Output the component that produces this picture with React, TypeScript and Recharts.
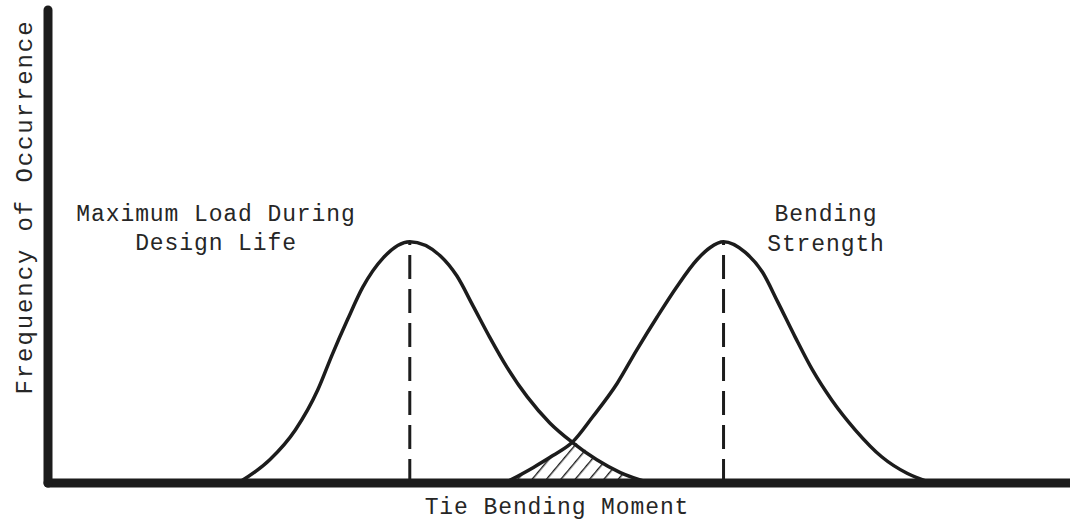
import { ComposedChart, Line, Area, XAxis, YAxis, ReferenceLine } from 'recharts';

// Tie bending moment (arbitrary units, 0-100) vs relative frequency (0-100)
const loadCurve = [
  { x: 18.6, y: 0 },
  { x: 21.7, y: 4.9 },
  { x: 24.2, y: 11.2 },
  { x: 26.4, y: 19.7 },
  { x: 27.8, y: 27.1 },
  { x: 29.3, y: 34.5 },
  { x: 30.8, y: 41.4 },
  { x: 32.8, y: 47.6 },
  { x: 35.4, y: 51.0 },
  { x: 38.4, y: 48.0 },
  { x: 40.0, y: 43.8 },
  { x: 41.6, y: 37.4 },
  { x: 43.2, y: 30.9 },
  { x: 44.9, y: 24.5 },
  { x: 46.9, y: 18.2 },
  { x: 49.1, y: 12.7 },
  { x: 51.3, y: 8.6 },
  { x: 53.7, y: 4.9 },
  { x: 56.0, y: 2.2 },
  { x: 58.9, y: 0 },
];

const strengthCurve = [
  { x: 44.7, y: 0 },
  { x: 47.5, y: 3.3 },
  { x: 49.4, y: 5.8 },
  { x: 51.3, y: 8.6 },
  { x: 53.3, y: 14.0 },
  { x: 55.7, y: 21.1 },
  { x: 57.6, y: 28.1 },
  { x: 59.6, y: 35.1 },
  { x: 61.5, y: 41.4 },
  { x: 63.5, y: 47.2 },
  { x: 64.8, y: 49.8 },
  { x: 66.1, y: 51.0 },
  { x: 68.2, y: 48.8 },
  { x: 69.9, y: 44.6 },
  { x: 71.4, y: 38.3 },
  { x: 73.1, y: 30.9 },
  { x: 74.8, y: 23.9 },
  { x: 76.7, y: 17.5 },
  { x: 79.0, y: 11.2 },
  { x: 81.6, y: 5.5 },
  { x: 84.1, y: 2.0 },
  { x: 86.5, y: 0 },
];

const loadLabel = ['Maximum Load During', 'Design Life'];
const strengthLabel = ['Bending', 'Strength'];
const xTitle = 'Tie Bending Moment';
const yTitle = 'Frequency of Occurrence';

// where the two curves cross; the hatched area sits under the lower of the two
const crossX = 51.3;
const overlap = [
  ...strengthCurve.filter((p) => p.x <= crossX),
  ...loadCurve.filter((p) => p.x > crossX),
];

const peakOf = (pts: { x: number; y: number }[]) =>
  pts.reduce((a, b) => (b.y > a.y ? b : a));

const loadPeak = peakOf(loadCurve);
const strengthPeak = peakOf(strengthCurve);

const INK = '#1c1c1c';
const FONT = '"Courier New", "Liberation Mono", monospace';

const textStyle = {
  fontFamily: FONT,
  fontSize: 23,
  letterSpacing: 0.9,
  fill: '#262626',
};

export default function App() {
  return (
    <div style={{ width: 1070, height: 532, background: '#fff' }}>
      <style>{'body{margin:0}'}</style>
      <ComposedChart
        width={1070}
        height={532}
        margin={{ top: 10, right: 0, left: 0, bottom: 0 }}
      >
        <defs>
          <pattern
            id="hatch"
            patternUnits="userSpaceOnUse"
            width="11"
            height="11"
            patternTransform="rotate(40)"
          >
            <line x1="0" y1="0" x2="0" y2="11" stroke={INK} strokeWidth="2.8" />
          </pattern>
        </defs>
        <XAxis
          type="number"
          dataKey="x"
          domain={[0, 100]}
          allowDataOverflow
          height={49}
          tick={false}
          tickLine={false}
          axisLine={{ stroke: INK, strokeWidth: 9, strokeLinecap: 'round' }}
          label={({ viewBox }: any) => (
            <text
              x={viewBox.x + viewBox.width / 2 - 2}
              y={viewBox.y + 25}
              textAnchor="middle"
              dominantBaseline="central"
              style={textStyle}
            >
              {xTitle}
            </text>
          )}
        />
        <YAxis
          type="number"
          domain={[0, 100]}
          allowDataOverflow
          width={48}
          tick={false}
          tickLine={false}
          axisLine={{ stroke: INK, strokeWidth: 9, strokeLinecap: 'round' }}
          label={({ viewBox }: any) => (
            <text
              x={25}
              y={viewBox.y + 197}
              textAnchor="middle"
              dominantBaseline="central"
              transform={`rotate(-90, 25, ${viewBox.y + 197})`}
              style={{ ...textStyle, fontSize: 24, letterSpacing: 1.9 }}
            >
              {yTitle}
            </text>
          )}
        />
        <Area
          data={overlap}
          dataKey="y"
          type="monotone"
          stroke="none"
          fill="url(#hatch)"
          fillOpacity={1}
          isAnimationActive={false}
        />
        <Line
          data={loadCurve}
          dataKey="y"
          type="monotone"
          stroke={INK}
          strokeWidth={3.5}
          dot={false}
          isAnimationActive={false}
        />
        <Line
          data={strengthCurve}
          dataKey="y"
          type="monotone"
          stroke={INK}
          strokeWidth={3.5}
          dot={false}
          isAnimationActive={false}
        />
        <ReferenceLine
          segment={[
            { x: loadPeak.x, y: 0 },
            { x: loadPeak.x, y: loadPeak.y },
          ]}
          stroke={INK}
          strokeWidth={3}
          strokeDasharray="24 10"
        />
        <ReferenceLine
          segment={[
            { x: strengthPeak.x, y: 0 },
            { x: strengthPeak.x, y: strengthPeak.y },
          ]}
          stroke={INK}
          strokeWidth={3}
          strokeDasharray="24 10"
        />
        <text textAnchor="middle" dominantBaseline="central" style={textStyle}>
          <tspan x={216} y={215}>{loadLabel[0]}</tspan>
          <tspan x={216} y={244}>{loadLabel[1]}</tspan>
        </text>
        <text textAnchor="middle" dominantBaseline="central" style={textStyle}>
          <tspan x={826} y={215}>{strengthLabel[0]}</tspan>
          <tspan x={826} y={245}>{strengthLabel[1]}</tspan>
        </text>
      </ComposedChart>
    </div>
  );
}
